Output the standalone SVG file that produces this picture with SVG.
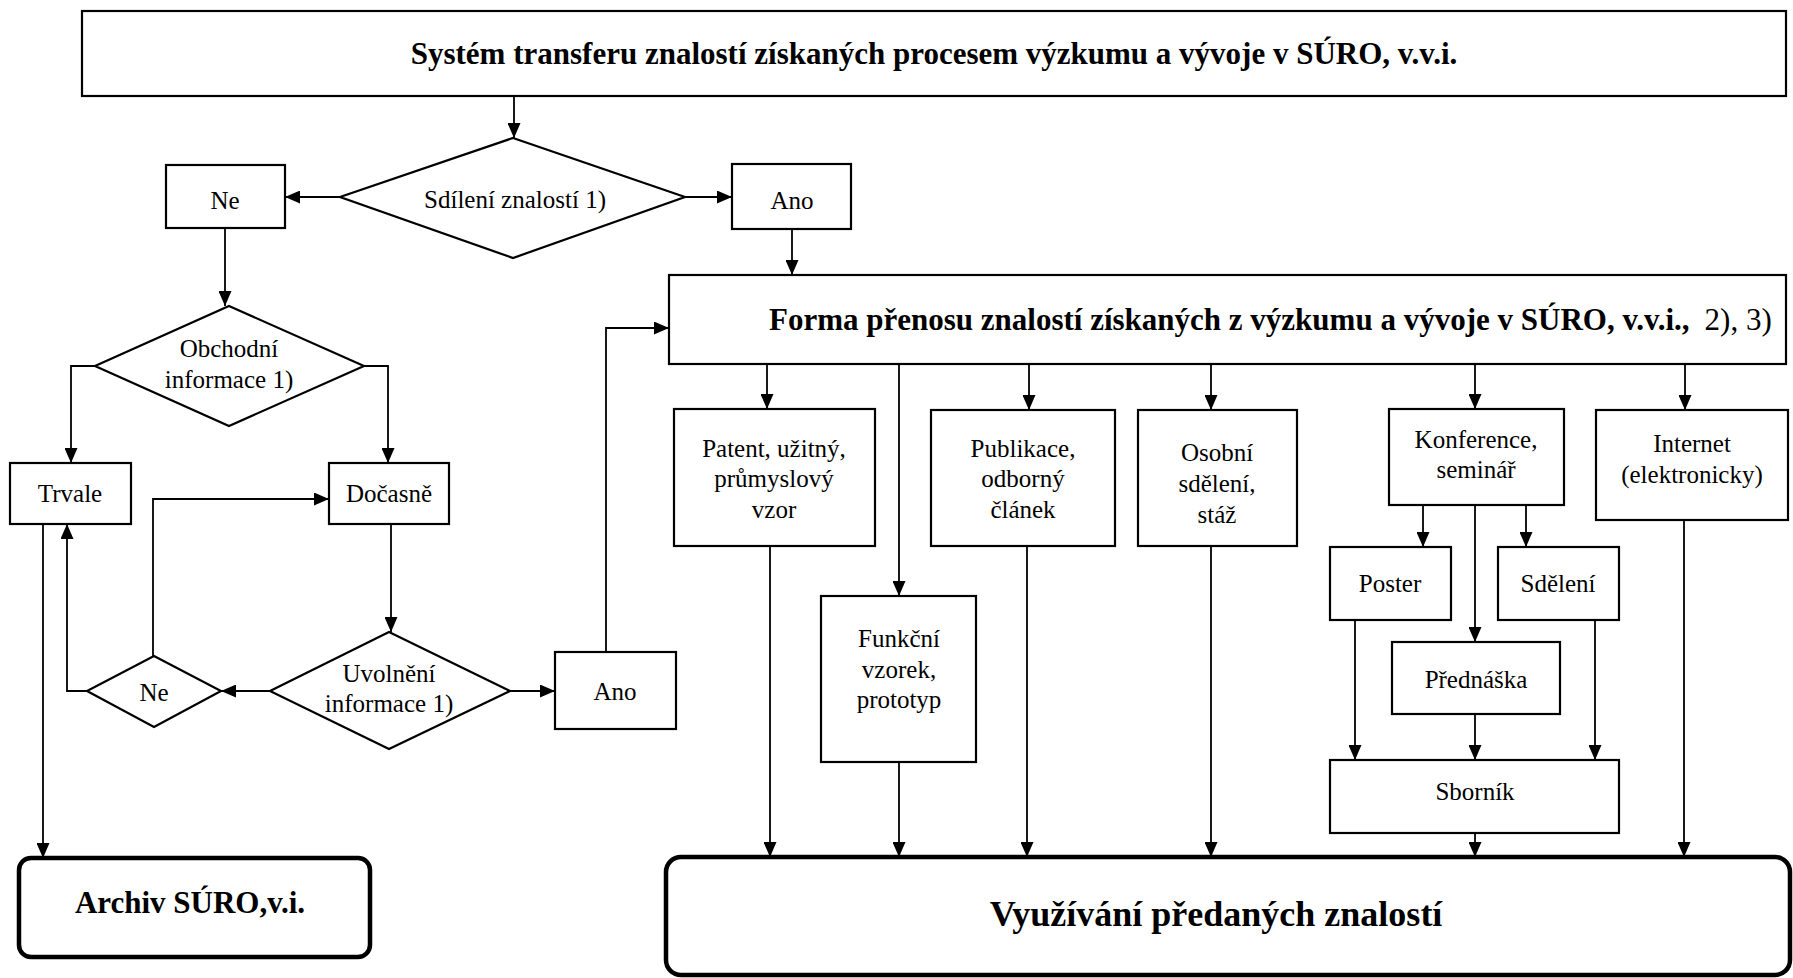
<svg xmlns="http://www.w3.org/2000/svg" width="1793" height="978" viewBox="0 0 1793 978">
<defs>
<marker id="ah" markerUnits="userSpaceOnUse" markerWidth="15" markerHeight="13" refX="15" refY="6.5" orient="auto">
<path d="M0,0 L15,6.5 L0,13 Z" fill="#000"/>
</marker>
<style>
.b{fill:#fff;stroke:#000;stroke-width:2.2}
.t{fill:#fff;stroke:#000;stroke-width:4.5}
.c{fill:none;stroke:#000;stroke-width:1.8;marker-end:url(#ah)}
.l{fill:none;stroke:#000;stroke-width:1.8}
text{font-family:"Liberation Serif","Times New Roman",serif;font-size:25px;fill:#000;text-anchor:middle}
.bt{font-weight:bold}
</style>
</defs>
<g id="connectors">
<path class="c" d="M514,96 V138"/>
<path class="c" d="M340,197 H285"/>
<path class="c" d="M685,197 H732"/>
<path class="c" d="M792,229 V275"/>
<path class="c" d="M225,228 V306"/>
<path class="c" d="M95,366 H71 V463"/>
<path class="c" d="M364,366 H388 V463"/>
<path class="c" d="M391,524 V632"/>
<path class="c" d="M270,691 H221"/>
<path class="c" d="M510,691 H555"/>
<path class="c" d="M87,691 H67 V524"/>
<path class="c" d="M153,656 V499 H329"/>
<path class="c" d="M43,524 V858"/>
<path class="c" d="M606,652 V328 H669"/>
<path class="c" d="M767,364 V409"/>
<path class="c" d="M899,364 V596"/>
<path class="c" d="M1029,364 V410"/>
<path class="c" d="M1211,364 V410"/>
<path class="c" d="M1475,364 V409"/>
<path class="c" d="M1685,364 V410"/>
<path class="c" d="M1423,505 V547"/>
<path class="c" d="M1526,505 V547"/>
<path class="c" d="M1475,505 V642"/>
<path class="c" d="M1355,620 V760"/>
<path class="c" d="M1475,714 V760"/>
<path class="c" d="M1595,620 V760"/>
<path class="c" d="M770,546 V857"/>
<path class="c" d="M899,762 V857"/>
<path class="c" d="M1027,546 V857"/>
<path class="c" d="M1211,546 V857"/>
<path class="c" d="M1475,833 V857"/>
<path class="c" d="M1684,520 V857"/>
</g>
<g id="title"><rect class="b" x="82" y="11" width="1704" height="85"/><text class="bt" x="934" y="64" style="font-size:31px">Systém transferu znalostí získaných procesem výzkumu a vývoje v SÚRO, v.v.i.</text></g>
<g id="sdileni"><polygon class="b" points="513,138 685,197 513,258 340,197"/><text x="515" y="208">Sdílení znalostí 1)</text></g>
<g id="ne1"><rect class="b" x="166" y="165" width="119" height="63"/><text x="225" y="209">Ne</text></g>
<g id="ano1"><rect class="b" x="732" y="164" width="119" height="65"/><text x="792" y="209">Ano</text></g>
<g id="forma"><rect class="b" x="669" y="275" width="1117" height="89"/><text x="769" y="330" style="text-anchor:start"><tspan class="bt" style="font-size:31px">Forma přenosu znalostí získaných z výzkumu a vývoje v SÚRO, v.v.i.,</tspan><tspan dx="15" style="font-size:31px">2), 3)</tspan></text></g>
<g id="obchodni"><polygon class="b" points="229,306 364,366 229,426 95,366"/><text x="229" y="357">Obchodní</text><text x="229" y="388">informace 1)</text></g>
<g id="trvale"><rect class="b" x="10" y="463" width="121" height="61"/><text x="70" y="502">Trvale</text></g>
<g id="docasne"><rect class="b" x="329" y="463" width="120" height="61"/><text x="389" y="502">Dočasně</text></g>
<g id="uvolneni"><polygon class="b" points="389,632 510,691 389,749 270,691"/><text x="389" y="682">Uvolnění</text><text x="389" y="712">informace 1)</text></g>
<g id="ne2"><polygon class="b" points="154,656 221,691 154,727 87,691"/><text x="154" y="701">Ne</text></g>
<g id="ano2"><rect class="b" x="555" y="652" width="121" height="77"/><text x="615" y="700">Ano</text></g>
<g id="archiv"><rect class="t" x="19" y="858" width="351" height="99" rx="12"/><text class="bt" x="190" y="913" style="font-size:31px">Archiv SÚRO,v.i.</text></g>
<g id="patent"><rect class="b" x="674" y="409" width="201" height="137"/><text x="774" y="457">Patent, užitný,</text><text x="774" y="487">průmyslový</text><text x="774" y="518">vzor</text></g>
<g id="funkcni"><rect class="b" x="821" y="596" width="155" height="166"/><text x="899" y="647">Funkční</text><text x="899" y="678">vzorek,</text><text x="899" y="708">prototyp</text></g>
<g id="publikace"><rect class="b" x="931" y="410" width="184" height="136"/><text x="1023" y="457">Publikace,</text><text x="1023" y="487">odborný</text><text x="1023" y="518">článek</text></g>
<g id="osobni"><rect class="b" x="1138" y="410" width="159" height="136"/><text x="1217" y="461">Osobní</text><text x="1217" y="492">sdělení,</text><text x="1217" y="523">stáž</text></g>
<g id="konference"><rect class="b" x="1389" y="409" width="175" height="96"/><text x="1476" y="448">Konference,</text><text x="1476" y="478">seminář</text></g>
<g id="internet"><rect class="b" x="1596" y="410" width="192" height="110"/><text x="1692" y="452">Internet</text><text x="1692" y="483">(elektronicky)</text></g>
<g id="poster"><rect class="b" x="1330" y="547" width="121" height="73"/><text x="1390" y="592">Poster</text></g>
<g id="sdeleni"><rect class="b" x="1498" y="547" width="121" height="73"/><text x="1558" y="592">Sdělení</text></g>
<g id="prednaska"><rect class="b" x="1392" y="642" width="168" height="72"/><text x="1476" y="688">Přednáška</text></g>
<g id="sbornik"><rect class="b" x="1330" y="760" width="289" height="73"/><text x="1475" y="800">Sborník</text></g>
<g id="vyuzivani"><rect class="t" x="666" y="857" width="1124" height="118" rx="15"/><text class="bt" x="1216" y="926" style="font-size:36px">Využívání předaných znalostí</text></g>
</svg>
